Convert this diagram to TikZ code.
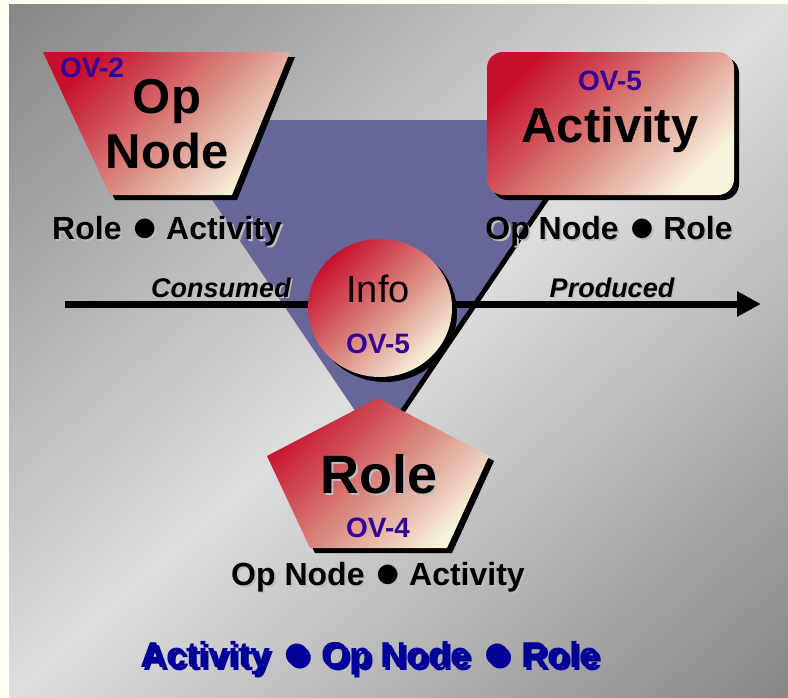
\documentclass[tikz,border=0pt]{standalone}
\usepackage{fontspec}
\setmainfont{Liberation Sans}
\newfontfamily\symfont{DejaVu Sans}
\usepackage{tikz}
\usepackage{xcolor}
\usetikzlibrary{arrows.meta,shadows,calc}

\definecolor{ovred}{HTML}{C8102E}
\definecolor{ovpink}{HTML}{D9807A}
\definecolor{ovcream}{HTML}{F6F3DA}
\definecolor{ovblue}{HTML}{330099}
\definecolor{ovnavy}{HTML}{000099}
\definecolor{tri}{HTML}{666699}
\definecolor{edge}{HTML}{FFFFF0}
\definecolor{shgray}{HTML}{BDBDBD}
\definecolor{shcream}{HTML}{F2EFC6}

% grey background, dark in the top left and bottom right corners
\pgfdeclarefunctionalshading{bgdiag}{\pgfpoint{0bp}{0bp}}{\pgfpoint{100bp}{100bp}}{}{
  25 sub 50 div neg 1 add exch 25 sub 50 div add 2 div
  2 mul 1 sub abs neg 1 add
  dup 0 lt {pop 0} if
  0.345 mul 0.525 add dup dup
}

\newcommand{\shtext}[3][2pt]{\makebox[0pt][l]{\kern#1\raisebox{-#1}{\textcolor{#2}{#3}}}#3}
\newcommand{\ovdot}{\hspace{0.1em}\raisebox{0.12em}{\scalebox{0.8}{\symfont ●}}\hspace{0.04em}}

\begin{document}
\begin{tikzpicture}[line cap=round,line join=round,x=1pt,y=-1pt,
    ovshape/.style={top color=ovred,bottom color=ovcream,middle color=ovpink,shading angle=45,
      drop shadow={opacity=1,fill=black,shadow xshift=5pt,shadow yshift=-5pt}},
    ovtag/.style={anchor=base,text=ovblue,font=\fontsize{28}{32}\selectfont\bfseries},
    bigtxt/.style={anchor=base,font=\fontsize{49}{54}\selectfont\bfseries},
    reltxt/.style={anchor=base,font=\fontsize{32}{36}\selectfont\bfseries},
    flowtxt/.style={anchor=base,font=\fontsize{27}{30}\selectfont\bfseries\itshape}]
        \useasboundingbox (0,0) rectangle (788,697);
        \fill [edge] (0,0) rectangle (788,697);
        \shade [shading=bgdiag] (9,4) rectangle (788,697);
        % the triangle behind
        \fill [tri] (158,120) -- (600,120) -- (379,446) -- cycle;
        \draw [line width=5pt] (600,120) -- (379,446);
        % op node and activity
        \path [ovshape] (43,52) -- (290,52) -- (232,195) -- (110,195) -- cycle;
        \path [ovshape,rounded corners=16pt] (487,52) rectangle (734,195);
        % flow through info
        \coordinate (src) at (65,304);
        \coordinate (snk) at (761,304);
        \draw [line width=7pt,line cap=butt,-{Triangle[length=24pt,width=24pt]}] (src) -- (snk);
        \path [ovshape] (380,308) ellipse [x radius=72,y radius=69];
        % role
        \path [ovshape] (378,398) -- (489,456) -- (447,548) -- (310,548) -- (267,456) -- cycle;
        \draw (92,77) node[ovtag] (ovtwo) {OV-2};
        \draw (167,113) node[bigtxt] (opa) {Op};
        \draw (167,168) node[bigtxt] (opb) {Node};
        \draw (610,90) node[ovtag] (ovfive) {OV-5};
        \draw (610,142) node[bigtxt] (act) {Activity};
        \draw (378,302) node[anchor=base,font=\fontsize{38}{42}\selectfont] (info) {Info};
        \draw (378,353) node[ovtag] (ovinfo) {OV-5};
        \draw (379,493) node[bigtxt,font=\fontsize{54}{58}\selectfont\bfseries] (role) {\shtext{shgray}{Role}};
        \draw (378,537) node[ovtag] (ovfour) {OV-4};
        \draw (167,239) node[reltxt] (opnrel) {\shtext{shgray}{Role \ovdot{} Activity}};
        \draw (609,239) node[reltxt] (actrel) {\shtext{shgray}{Op Node \ovdot{} Role}};
        \draw (378,585) node[reltxt] (rolerel) {\shtext{shgray}{Op Node \ovdot{} Activity}};
        \draw (221,297) node[flowtxt] (cons) {\shtext[1.5pt]{shgray}{Consumed}};
        \draw (612,297) node[flowtxt] (prod) {\shtext[1.5pt]{shgray}{Produced}};
        \draw (370,667) node[anchor=base,text=ovnavy,font=\fontsize{36}{40}\selectfont\bfseries] (views) {\shtext[3pt]{shcream}{\textcolor{ovnavy}{Activity \ovdot{} Op Node \ovdot{} Role}}};
\end{tikzpicture}
\end{document}
